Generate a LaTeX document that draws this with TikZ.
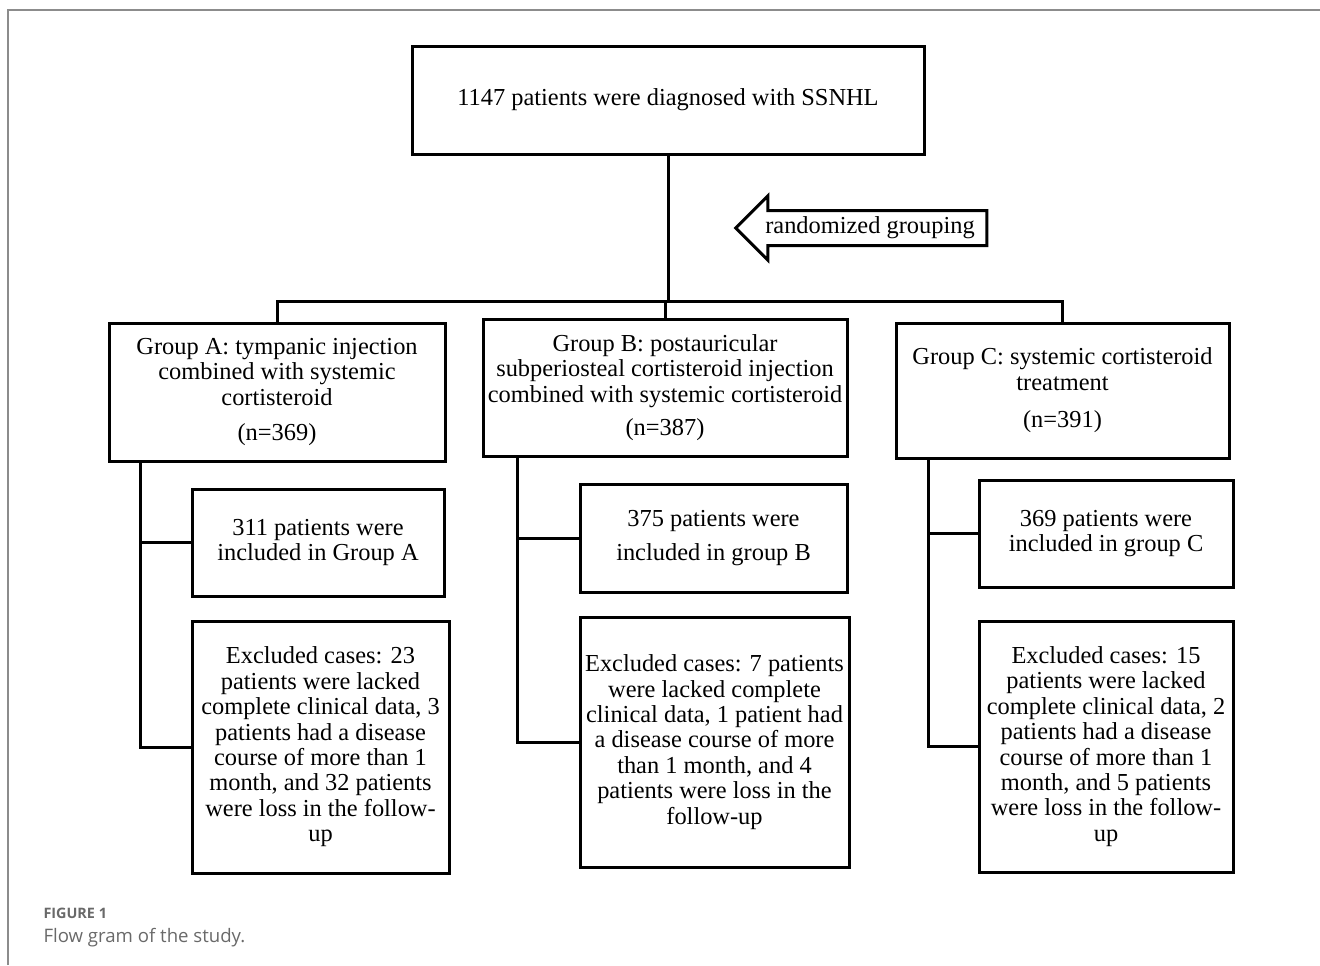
\documentclass[tikz,border=0pt]{standalone}
\usepackage{fontspec}
\setmainfont{Liberation Serif}
\newfontfamily\capfont{Open Sans}
\usetikzlibrary{shapes.arrows}
\definecolor{framegray}{RGB}{140,140,140}
\definecolor{capgray}{RGB}{105,105,105}

\begin{document}
\begin{tikzpicture}[x=0.5pt,y=-0.5pt,line width=1.5pt,
		main node/.style={rectangle,draw,align=center,inner sep=0pt,font=\fontsize{12.2}{12.7}\selectfont},
		arrow node/.style={single arrow,draw,shape border rotate=180,font=\fontsize{12.2}{12.7}\selectfont,
			inner xsep=4pt,inner ysep=2.6pt,text height=8.2pt,text depth=2.6pt,
			minimum height=125.5pt,minimum width=30.5pt,single arrow head extend=7.25pt},
		caption node/.style={anchor=base west,inner sep=0pt,text=capgray}]
	
	\useasboundingbox (0,0) rectangle (1320,965);
	\draw[framegray,line width=1pt] (8,965) -- (8,10) -- (1320,10);
	
	\node[main node,minimum width=256pt,minimum height=54pt] (all) at (668,100) {1147 patients were diagnosed with SSNHL};
	\node[arrow node] (rand) at (870,228) {randomized grouping};
	
	\node[main node,minimum width=168pt,minimum height=69pt] (A) at (277,392)
		{Group A: tympanic injection\\combined with systemic\\cortisteroid\\[5pt](n=369)};
	\node[main node,minimum width=182pt,minimum height=68.5pt] (B) at (665,387.5)
		{Group B: postauricular\\subperiosteal cortisteroid injection\\combined with systemic cortisteroid\\[4pt](n=387)};
	\node[main node,minimum width=166.5pt,minimum height=67.5pt] (C) at (1062.5,390.5)
		{Group C: systemic cortisteroid\\treatment\\[6pt](n=391)};
	
	\node[main node,minimum width=126pt,minimum height=53.5pt] (A1) at (318,542.5) {311 patients were\\included in Group A};
	\node[main node,minimum width=133.5pt,minimum height=54pt] (B1) at (713.5,538) {375 patients were\\[4.5pt]included in group B};
	\node[main node,minimum width=127pt,minimum height=53.5pt] (C1) at (1106,533.5) {369 patients were\\included in group C};
	
	\node[main node,minimum width=128.5pt,minimum height=126pt] (A2) at (320.5,747)
		{Excluded cases: 23\\patients were lacked\\complete clinical data, 3\\patients had a disease\\course of more than 1\\month, and 32 patients\\were loss in the follow-\\up};
	\node[main node,minimum width=134.5pt,minimum height=125pt] (B2) at (714.5,742)
		{Excluded cases: 7 patients\\were lacked complete\\clinical data, 1 patient had\\a disease course of more\\than 1 month, and 4\\patients were loss in the\\follow-up};
	\node[main node,minimum width=127pt,minimum height=125.5pt] (C2) at (1106,746.5)
		{Excluded cases: 15\\patients were lacked\\complete clinical data, 2\\patients had a disease\\course of more than 1\\month, and 5 patients\\were loss in the follow-\\up};
	
	% splitting into the three groups
	\coordinate (split) at (668,301);
	\draw (all) -- (split);
	\draw (A) |- (split) -| (C);
	\draw (B) -- (B |- split);
	
	% trunks on the left of each group
	\coordinate (a) at ([xshift=16.5pt]A.south west);
	\coordinate (b) at ([xshift=18pt]B.south west);
	\coordinate (c) at ([xshift=17pt]C.south west);
	\draw (a) |- (A2);
	\draw (a |- A1) -- (A1);
	\draw (b) |- (B2);
	\draw (b |- B1) -- (B1);
	\draw (c) |- (C2);
	\draw (c |- C1) -- (C1);
	
	\node[caption node,font=\capfont\bfseries\fontsize{7.2}{9}\selectfont] (fig) at (42,918) {FIGURE 1};
	\node[caption node,font=\capfont\fontsize{9.3}{11}\selectfont] (cap) at (42,942) {Flow gram of the study.};
\end{tikzpicture}
\end{document}
